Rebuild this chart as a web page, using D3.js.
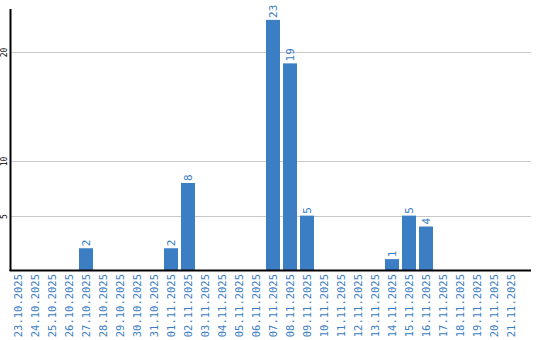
<!DOCTYPE html>
<html>
<head>
<meta charset="utf-8">
<script src="https://cdn.jsdelivr.net/npm/d3@7"></script>
<style>
  body { margin: 0; background: #fff; }
  svg { display: block; }
</style>
</head>
<body>
<div class="chart"></div>
<script>
// days shown on the x axis
const days = ['23.10.2025', '24.10.2025', '25.10.2025', '26.10.2025', '27.10.2025',
  '28.10.2025', '29.10.2025', '30.10.2025', '31.10.2025', '01.11.2025',
  '02.11.2025', '03.11.2025', '04.11.2025', '05.11.2025', '06.11.2025',
  '07.11.2025', '08.11.2025', '09.11.2025', '10.11.2025', '11.11.2025',
  '12.11.2025', '13.11.2025', '14.11.2025', '15.11.2025', '16.11.2025',
  '17.11.2025', '18.11.2025', '19.11.2025', '20.11.2025', '21.11.2025'];
const counts = [0, 0, 0, 0, 2, 0, 0, 0, 0, 2, 8, 0, 0, 0, 0,
  23, 19, 5, 0, 0, 0, 0, 1, 5, 4, 0, 0, 0, 0, 0];
const yTicks = [5, 10, 20];

const data = days.map((d, i) => ({ day: d, value: counts[i] }));

const width = 540, height = 340;
const blue = '#3b7ec3';

const svg = d3.select('.chart').append('svg')
  .attr('width', width)
  .attr('height', height);

// plot area
const plot = { left: 10.5, right: 531, top: 9, bottom: 270 };

const x = d3.scaleBand()
  .domain(days)
  .range([9, 519.6])
  .paddingInner(0.18)
  .paddingOuter(0.09);

const y = d3.scaleLinear()
  .domain([0, 24])
  .range([plot.bottom, plot.top]);

// gridlines
svg.append('g')
  .selectAll('line')
  .data(yTicks)
  .enter().append('line')
    .attr('x1', plot.left)
    .attr('x2', plot.right)
    .attr('y1', d => Math.round(y(d)) + 0.5)
    .attr('y2', d => Math.round(y(d)) + 0.5)
    .attr('stroke', '#c8c8c8')
    .attr('stroke-width', 1);

// y tick labels, rotated
svg.append('g')
  .selectAll('text')
  .data(yTicks)
  .enter().append('text')
    .attr('transform', d => `translate(7, ${Math.round(y(d)) + 0.5}) rotate(-90)`)
    .attr('text-anchor', 'middle')
    .attr('font-family', 'DejaVu Sans Mono, monospace')
    .attr('font-size', 8)
    .attr('fill', '#000')
    .text(d => d);

// bars
const bars = data.filter(d => d.value > 0);
svg.append('g')
  .selectAll('rect')
  .data(bars)
  .enter().append('rect')
    .attr('x', d => Math.round(x(d.day)))
    .attr('y', d => y(d.value))
    .attr('width', Math.round(x.bandwidth()))
    .attr('height', d => plot.bottom - y(d.value))
    .attr('fill', blue);

// value labels above bars
svg.append('g')
  .selectAll('text')
  .data(bars)
  .enter().append('text')
    .attr('transform', d =>
      `translate(${Math.round(x(d.day)) + x.bandwidth() / 2 + 4}, ${y(d.value) - 2}) rotate(-90)`)
    .attr('font-family', 'DejaVu Sans Mono, monospace')
    .attr('font-size', 11)
    .attr('fill', blue)
    .text(d => d.value);

// axis lines
svg.append('line')
  .attr('x1', plot.left).attr('x2', plot.left)
  .attr('y1', plot.top).attr('y2', plot.bottom + 1)
  .attr('stroke', '#000').attr('stroke-width', 2);
svg.append('line')
  .attr('x1', plot.left - 1).attr('x2', plot.right)
  .attr('y1', plot.bottom + 0.5).attr('y2', plot.bottom + 0.5)
  .attr('stroke', '#000').attr('stroke-width', 2);

// x labels, rotated
svg.append('g')
  .selectAll('text')
  .data(days)
  .enter().append('text')
    .attr('transform', d =>
      `translate(${x(d) + x.bandwidth() / 2 + 4}, 274) rotate(-90)`)
    .attr('text-anchor', 'end')
    .attr('font-family', 'DejaVu Sans Mono, monospace')
    .attr('font-size', 10.5)
    .attr('fill', blue)
    .text(d => d);
</script>
</body>
</html>
